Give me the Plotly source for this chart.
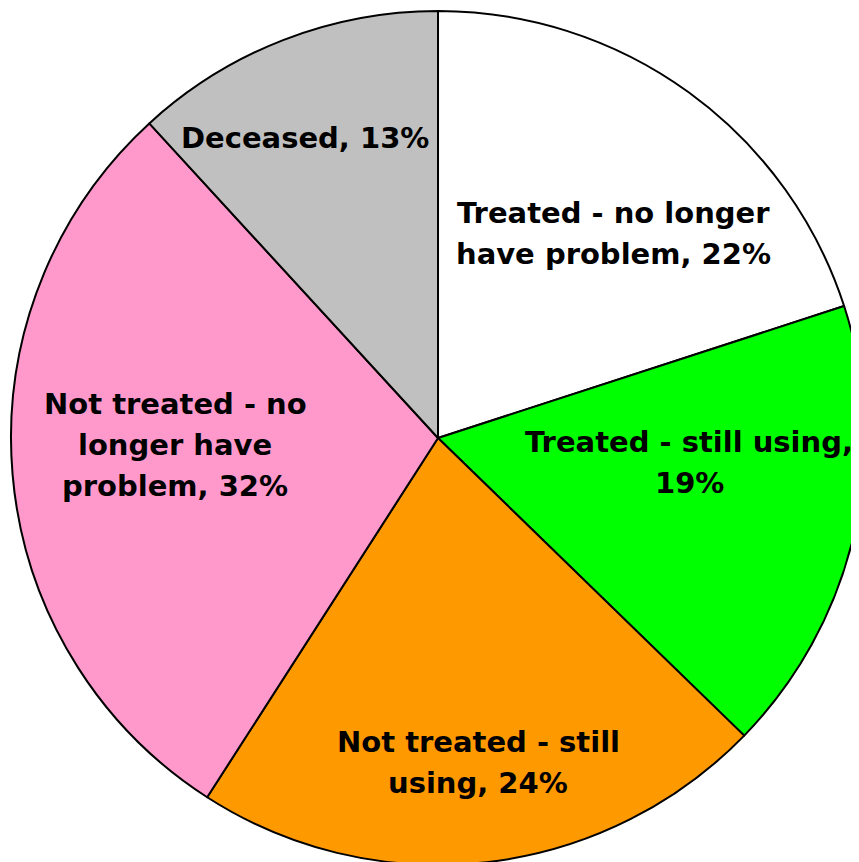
import plotly.graph_objects as go

# slice data, clockwise from 12 o'clock (values sum to 110 as in the source)
labels = [
    "Treated - no longer have problem",
    "Treated - still using",
    "Not treated - still using",
    "Not treated - no longer have problem",
    "Deceased",
]
values = [22, 19, 24, 32, 13]
colors = ["#FFFFFF", "#00FF00", "#FF9900", "#FF99CC", "#C0C0C0"]

# wrapped label text, as shown on the chart ("{v}" = slice value)
label_lines = [
    ["Treated - no longer", "have problem, {v}%"],
    ["Treated - still using,", "{v}%"],
    ["Not treated - still", "using, {v}%"],
    ["Not treated - no", "longer have", "problem, {v}%"],
    ["Deceased, {v}%"],
]

# centre of each label block (screen pixels)
label_px = [(613, 233), (689, 462), (478, 762), (175, 445), (305, 138)]
LINE_GAP = 41

W, H = 859, 862
OFF = 8  # page body margin shifts the figure


def to_paper(px, py):
    return (px - OFF) / W, 1 - (py - OFF) / H


fig = go.Figure(
    go.Pie(
        labels=labels,
        values=values,
        textinfo="none",
        sort=False,
        direction="clockwise",
        rotation=0,
        marker=dict(colors=colors, line=dict(color="black", width=2)),
        showlegend=False,
        hoverinfo="label+value",
        domain=dict(x=[0.0035, 0.9977], y=[0.0058, 0.9965]),
    )
)

for lines, v, (px, py) in zip(label_lines, values, label_px):
    n = len(lines)
    for i, ln in enumerate(lines):
        x, y = to_paper(px, py + (i - (n - 1) / 2) * LINE_GAP)
        fig.add_annotation(
            x=x, y=y, xref="paper", yref="paper",
            text=ln.format(v=v),
            showarrow=False,
            xanchor="center", yanchor="middle",
            font=dict(family="DejaVu Sans", size=29, color="black", weight="bold"),
        )

fig.update_layout(
    width=W,
    height=H,
    margin=dict(l=0, r=0, t=0, b=0),
    paper_bgcolor="white",
)

fig.write_html("out.html")
